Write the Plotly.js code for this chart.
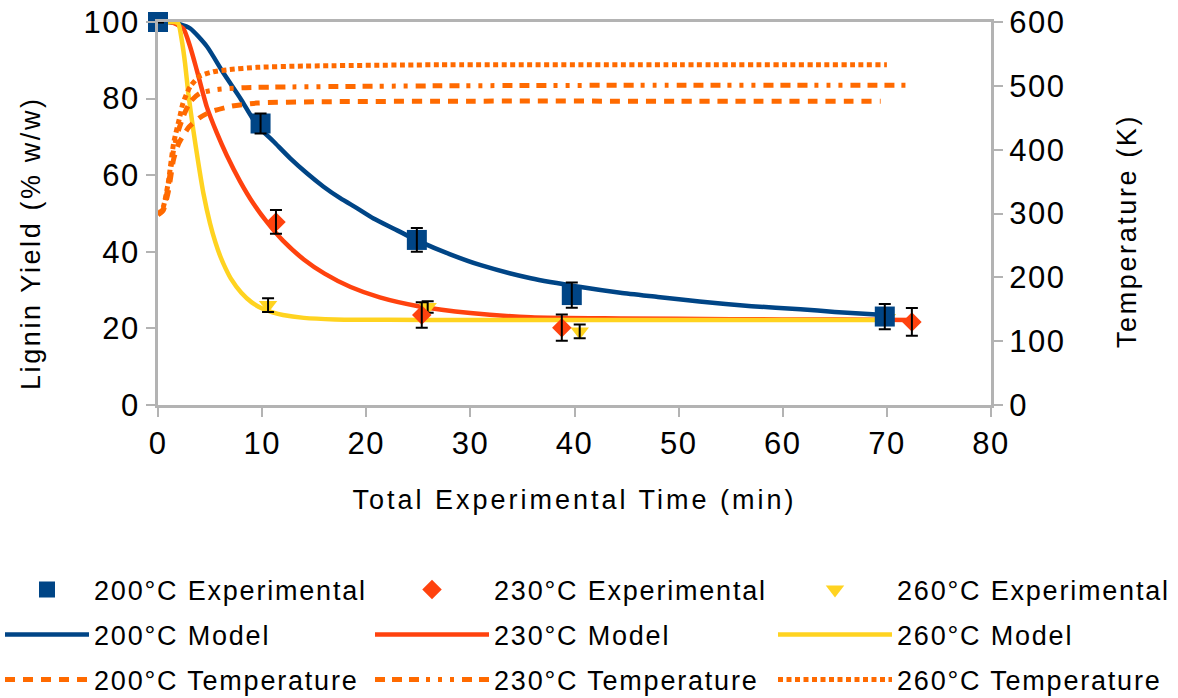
<!DOCTYPE html>
<html>
<head>
<meta charset="utf-8">
<script src="https://cdn.plot.ly/plotly-3.0.1.min.js"></script>
<style>
  html, body { margin: 0; padding: 0; background: #ffffff; }
  #chart { width: 1178px; height: 698px; }
  text { letter-spacing: 1.8px; }
  text.xtitle { letter-spacing: 3px; }
  text.annotation-text { letter-spacing: 2.6px; }
  .xtick text, .ytick text, .y2tick text { letter-spacing: 1.5px; }
</style>
</head>
<body>
<div id="chart"></div>
<script>
// Measured lignin yield (% w/w) with error bars, per reaction temperature
const expTime200 = [0, 9.85, 24.86, 39.74, 69.8];
const expYield200 = [100, 73.5, 43.1, 28.7, 23.1];
const expErr200 = [0.1, 2.6, 3.1, 3.3, 3.3];

const expTime230 = [0, 11.33, 25.33, 38.78, 72.4];
const expYield230 = [100, 47.8, 23.5, 20.2, 21.7];
const expErr230 = [0.1, 3.1, 3.3, 3.4, 3.6];

const expTime260 = [0, 10.57, 25.9, 40.5, 70.0];
const expYield260 = [100, 26.1, 25.6, 19.2, 22.7];
const expErr260 = [0.1, 1.8, 1.5, 1.8, 1.5];

// Kinetic model curves (% w/w)
const modelTime200 = [0, 1, 2, 3.1, 4.7, 6.3, 7.9, 9.5, 11.1, 12.7, 14.3, 15.9, 17.5, 19.1, 20.7, 22.6, 25.2, 28, 31, 35.8, 40.6, 44.4, 48, 52, 57, 61.7, 65, 69.8];
const modelYield200 = [100, 100, 99.5, 98.3, 93.6, 86.6, 80.1, 73.1, 68.8, 64.4, 60.5, 57.0, 54.0, 51.4, 48.7, 46.1, 42.6, 39.4, 36.5, 33.1, 30.8, 29.3, 28.2, 27.0, 25.8, 25.0, 24.3, 23.5];

const modelTime230 = [0, 1, 1.47, 2.43, 3.08, 3.72, 4.68, 5.64, 6.6, 7.88, 9.16, 10.45, 12, 14, 16, 18.5, 21.3, 25, 30, 35.8, 44.4, 55, 65, 72.4];
const modelYield230 = [100, 100, 99.8, 98.3, 93.6, 87.5, 77.9, 71.1, 65.2, 58.4, 52.6, 47.8, 42.9, 38.0, 34.3, 30.8, 28.1, 25.8, 24.0, 22.9, 22.6, 22.4, 22.3, 22.2];

const modelTime260 = [0, 1, 1.6, 1.95, 2.28, 2.6, 2.91, 3.39, 3.88, 4.36, 5.0, 5.5, 6.0, 6.5, 7.0, 8.0, 9.0, 10.0, 11.0, 12.0, 14.0, 17.0, 22, 30, 40, 55, 70];
const modelYield260 = [100, 100, 100, 99.6, 95.3, 89.2, 81.4, 71.8, 63.1, 55.3, 47.4, 42.6, 38.7, 35.6, 33.0, 29.3, 26.8, 25.2, 24.2, 23.5, 22.75, 22.35, 22.25, 22.2, 22.2, 22.2, 22.2];

// Reactor temperature profiles (K)
const tempTime200 = [0, 0.5, 1.0, 1.5, 2.0, 3.0, 4.0, 5.0, 7.0, 9.5, 15, 30, 50, 69.4];
const tempK200 = [298, 305, 335, 385, 410, 436, 450, 459, 468, 473, 475, 476, 476, 476];

const tempTime230 = [0, 0.5, 1.0, 1.5, 2.0, 2.5, 3.1, 4.0, 5.6, 8.0, 11, 27, 50, 72.3];
const tempK230 = [298, 307, 345, 400, 432, 455, 475, 488, 494, 497, 498, 500, 501, 501];

const tempTime260 = [0, 0.5, 1.0, 1.5, 2.1, 2.4, 3.1, 4.0, 5.3, 6.6, 9.5, 14, 27, 50, 70];
const tempK260 = [298, 310, 350, 410, 452, 473, 499, 515, 522, 525, 529, 531, 533, 533, 533];

// Axis titles
const xTitle = 'Total Experimental Time (min)';
const yTitle = 'Lignin Yield (% w/w)';
const y2Title = 'Temperature (K)';

const BLUE = '#004586';
const RED = '#ff420e';
const YELLOW = '#ffd320';
const ORANGE = '#ff6a00';
const AXIS = '#b3b3b3';
const FONT = 'Liberation Sans, Arial, sans-serif';

function modelTrace(x, y, color, name, legend) {
  return { x, y, name, legend, type: 'scatter', mode: 'lines',
    line: { color, width: 4.5, shape: 'spline', smoothing: 0.6 }, cliponaxis: false };
}
function expTrace(x, y, symbol, size, color, name, legend) {
  return { x, y, name, legend, type: 'scatter', mode: 'markers',
    marker: { symbol, size, color, line: { width: 0 } }, cliponaxis: false };
}
function errTrace(x, y, err) {
  return { x, y, type: 'scatter', mode: 'markers', showlegend: false, hoverinfo: 'skip',
    marker: { size: 1, opacity: 0 }, cliponaxis: false,
    error_y: { type: 'data', array: err, visible: true, color: '#000000', thickness: 2, width: 6 } };
}
function tempTrace(x, y, dash, name, legend) {
  return { x, y, name, legend, yaxis: 'y2', type: 'scatter', mode: 'lines',
    line: { color: ORANGE, width: 5, dash, shape: 'spline', smoothing: 0.6 }, cliponaxis: false };
}

const traces = [
  modelTrace(modelTime200, modelYield200, BLUE, '200°C Model', 'legend4'),
  modelTrace(modelTime230, modelYield230, RED, '230°C Model', 'legend5'),
  modelTrace(modelTime260, modelYield260, YELLOW, '260°C Model', 'legend6'),
  expTrace(expTime260, expYield260, 'triangle-down', 16, YELLOW, '260°C Experimental', 'legend3'),
  errTrace(expTime260, expYield260, expErr260),
  expTrace(expTime230, expYield230, 'diamond', 15, RED, '230°C Experimental', 'legend2'),
  errTrace(expTime230, expYield230, expErr230),
  expTrace(expTime200, expYield200, 'square', 20, BLUE, '200°C Experimental', 'legend'),
  errTrace(expTime200, expYield200, expErr200),
  tempTrace(tempTime200, tempK200, '10px,8px', '200°C Temperature', 'legend7'),
  tempTrace(tempTime230, tempK230, '10px,7px,10px,7px,10px,7px,4px,8px,4px,8px,4px,8px', '230°C Temperature', 'legend8'),
  tempTrace(tempTime260, tempK260, '5px,3.5px', '260°C Temperature', 'legend9')
];

// Plot area spans 833 x 383 px; legend slots and side titles are placed in plot-fraction units
const W = 833, H = 383, L = 158, B = 405;
const fx = px => (px - L) / W;
const fy = py => (B - py) / H;
function legendAt(px, py, itemwidth) {
  return { x: fx(px), y: fy(py), xanchor: 'left', yanchor: 'middle',
    orientation: 'v', itemwidth, bgcolor: 'rgba(0,0,0,0)', borderwidth: 0,
    font: { family: FONT, size: 27, color: '#000000' } };
}
const colX = [0, 370, 773];
const rowY = [590, 635, 680];

const axisCommon = {
  showline: true, linecolor: AXIS, linewidth: 3,
  ticks: 'outside', ticklen: 9, tickwidth: 2, tickcolor: AXIS,
  showgrid: false, zeroline: false,
  tickfont: { family: FONT, size: 31, color: '#000000' }
};
const titleFont = { family: FONT, size: 27, color: '#000000' };

const layout = {
  width: 1178, height: 698,
  margin: { l: L, r: 1178 - 991, t: 22, b: 698 - B, autoexpand: false },
  paper_bgcolor: '#ffffff', plot_bgcolor: '#ffffff',
  font: { family: FONT, color: '#000000' },
  xaxis: Object.assign({}, axisCommon, {
    range: [0, 80], dtick: 10, mirror: true,
    title: { text: xTitle, font: titleFont, standoff: 30 }
  }),
  yaxis: Object.assign({}, axisCommon, { range: [0, 100], dtick: 20 }),
  yaxis2: Object.assign({}, axisCommon, {
    range: [0, 600], dtick: 100, overlaying: 'y', side: 'right'
  }),
  annotations: [
    { text: yTitle, xref: 'paper', yref: 'paper', x: fx(31), y: fy(243), textangle: -90,
      xanchor: 'center', yanchor: 'middle', showarrow: false, font: titleFont },
    { text: y2Title, xref: 'paper', yref: 'paper', x: fx(1127), y: fy(231), textangle: -90,
      xanchor: 'center', yanchor: 'middle', showarrow: false, font: titleFont }
  ],
  legend: legendAt(colX[0], rowY[0], 84),
  legend2: legendAt(colX[1], rowY[0], 114),
  legend3: legendAt(colX[2], rowY[0], 114),
  legend4: legendAt(colX[0], rowY[1], 84),
  legend5: legendAt(colX[1], rowY[1], 114),
  legend6: legendAt(colX[2], rowY[1], 114),
  legend7: legendAt(colX[0], rowY[2], 84),
  legend8: legendAt(colX[1], rowY[2], 114),
  legend9: legendAt(colX[2], rowY[2], 114),
  showlegend: true
};

Plotly.newPlot('chart', traces, layout, { displayModeBar: false, staticPlot: true });
</script>
</body>
</html>
